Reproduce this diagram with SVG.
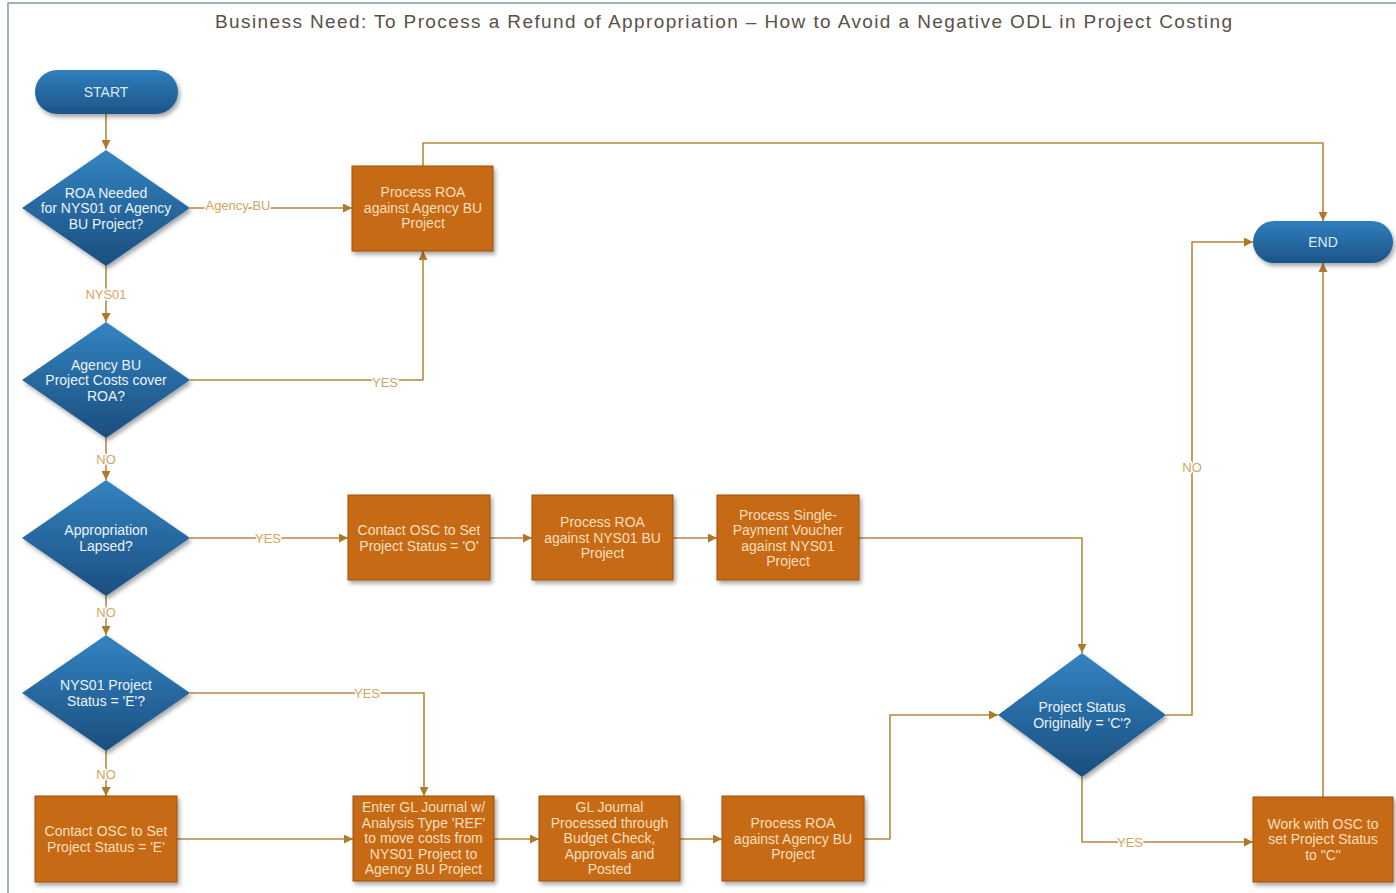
<svg xmlns="http://www.w3.org/2000/svg" width="1396" height="893" viewBox="0 0 1396 893">
<style>
.title{font-family:"Liberation Sans",Arial,sans-serif;font-size:19px;fill:#5a5048}
.bx{fill:#c76a12;stroke:#a05008;stroke-width:1}
.btx{font-family:"Liberation Sans",Arial,sans-serif;font-size:14px;fill:#f7dfba;text-anchor:middle}
.dtx{font-family:"Liberation Sans",Arial,sans-serif;font-size:14px;fill:#eaf2fa;text-anchor:middle}
.ptx{font-family:"Liberation Sans",Arial,sans-serif;font-size:14px;fill:#dbeaf6;text-anchor:middle}
.cn{fill:none;stroke:#b7883c;stroke-width:1.6;stroke-linejoin:round}
.lb{font-family:"Liberation Sans",Arial,sans-serif;font-size:13px;fill:#d3a560;text-anchor:middle;stroke:#fff;stroke-width:3;paint-order:stroke}
</style>
<defs>
<linearGradient id="gd" x1="0" y1="0" x2="0" y2="1">
<stop offset="0" stop-color="#3384c2"/>
<stop offset="1" stop-color="#1b4e7e"/>
</linearGradient>
<linearGradient id="gp" x1="0" y1="0" x2="0" y2="1">
<stop offset="0" stop-color="#2f7fbd"/>
<stop offset="1" stop-color="#1c5488"/>
</linearGradient>
<filter id="sh" x="-10%" y="-10%" width="130%" height="130%">
<feDropShadow dx="2" dy="3" stdDeviation="2" flood-color="#000" flood-opacity="0.35"/>
</filter>
<marker id="ar" viewBox="0 0 10 10" refX="10" refY="5" markerWidth="9" markerHeight="9" markerUnits="userSpaceOnUse" orient="auto">
<path d="M0,0 L10,5 L0,10 z" fill="#b0782a"/>
</marker>
</defs>
<rect width="1396" height="893" fill="#fff"/>
<path d="M8,893 V3 H1396" fill="none" stroke="#7f9aa6" stroke-width="1.5"/>
<text class="title" x="215" y="28" textLength="1017" lengthAdjust="spacing">Business Need: To Process a Refund of Appropriation – How to Avoid a Negative ODL in Project Costing</text>

<g id="connectors">
<path class="cn" d="M106,114 V149" marker-end="url(#ar)"/>
<path class="cn" d="M190,208 H352" marker-end="url(#ar)"/>
<path class="cn" d="M423,166 V143 H1323 V221" marker-end="url(#ar)"/>
<path class="cn" d="M106,266 V322" marker-end="url(#ar)"/>
<path class="cn" d="M190,380 H423 V251" marker-end="url(#ar)"/>
<path class="cn" d="M106,438 V480" marker-end="url(#ar)"/>
<path class="cn" d="M190,538 H348" marker-end="url(#ar)"/>
<path class="cn" d="M490,538 H532" marker-end="url(#ar)"/>
<path class="cn" d="M673,538 H717" marker-end="url(#ar)"/>
<path class="cn" d="M859,538 H1082 V653" marker-end="url(#ar)"/>
<path class="cn" d="M106,596 V635" marker-end="url(#ar)"/>
<path class="cn" d="M190,693 H424 V796" marker-end="url(#ar)"/>
<path class="cn" d="M106,751 V796" marker-end="url(#ar)"/>
<path class="cn" d="M177,839 H353" marker-end="url(#ar)"/>
<path class="cn" d="M494,839 H539" marker-end="url(#ar)"/>
<path class="cn" d="M680,839 H722" marker-end="url(#ar)"/>
<path class="cn" d="M864,839 H890 V715 H998" marker-end="url(#ar)"/>
<path class="cn" d="M1166,715 H1192 V242 H1253" marker-end="url(#ar)"/>
<path class="cn" d="M1082,777 V842 H1253" marker-end="url(#ar)"/>
<path class="cn" d="M1323,797 V263" marker-end="url(#ar)"/>
<text class="lb" x="238" y="210">Agency BU</text>
<text class="lb" x="106" y="299">NYS01</text>
<text class="lb" x="385" y="387">YES</text>
<text class="lb" x="106" y="464">NO</text>
<text class="lb" x="268" y="543">YES</text>
<text class="lb" x="106" y="617">NO</text>
<text class="lb" x="367" y="698">YES</text>
<text class="lb" x="106" y="779">NO</text>
<text class="lb" x="1192" y="472">NO</text>
<text class="lb" x="1130" y="847">YES</text>
</g>

<g id="start">
<rect x="35" y="70" width="143" height="44" rx="22" fill="url(#gp)" filter="url(#sh)"/>
<text class="ptx" x="106" y="97">START</text>
</g>
<g id="end">
<rect x="1253" y="221" width="140" height="42" rx="21" fill="url(#gp)" filter="url(#sh)"/>
<text class="ptx" x="1323" y="247">END</text>
</g>

<g id="d1">
<path d="M106,150 L190,208 L106,266 L22,208 Z" fill="url(#gd)" filter="url(#sh)"/>
<text class="dtx" x="106" y="197.5">ROA Needed</text>
<text class="dtx" x="106" y="213">for NYS01 or  Agency</text>
<text class="dtx" x="106" y="228.5">BU Project?</text>
</g>
<g id="d2">
<path d="M106,322 L190,380 L106,438 L22,380 Z" fill="url(#gd)" filter="url(#sh)"/>
<text class="dtx" x="106" y="369.5">Agency BU</text>
<text class="dtx" x="106" y="385">Project Costs cover</text>
<text class="dtx" x="106" y="400.5">ROA?</text>
</g>
<g id="d3">
<path d="M106,480 L190,538 L106,596 L22,538 Z" fill="url(#gd)" filter="url(#sh)"/>
<text class="dtx" x="106" y="535">Appropriation</text>
<text class="dtx" x="106" y="551">Lapsed?</text>
</g>
<g id="d4">
<path d="M106,635 L190,693 L106,751 L22,693 Z" fill="url(#gd)" filter="url(#sh)"/>
<text class="dtx" x="106" y="690">NYS01 Project</text>
<text class="dtx" x="106" y="706">Status = 'E'?</text>
</g>
<g id="d5">
<path d="M1082,653 L1166,715 L1082,777 L998,715 Z" fill="url(#gd)" filter="url(#sh)"/>
<text class="dtx" x="1082" y="712">Project Status</text>
<text class="dtx" x="1082" y="728">Originally = 'C'?</text>
</g>

<g id="b1">
<rect class="bx" x="352" y="166" width="141" height="85" filter="url(#sh)"/>
<text class="btx" x="423" y="197">Process ROA</text>
<text class="btx" x="423" y="212.5">against Agency BU</text>
<text class="btx" x="423" y="228">Project</text>
</g>
<g id="b2">
<rect class="bx" x="348" y="495" width="142" height="85" filter="url(#sh)"/>
<text class="btx" x="419" y="535">Contact OSC to Set</text>
<text class="btx" x="419" y="550.5">Project Status = 'O'</text>
</g>
<g id="b3">
<rect class="bx" x="532" y="495" width="141" height="85" filter="url(#sh)"/>
<text class="btx" x="602.5" y="527">Process ROA</text>
<text class="btx" x="602.5" y="542.5">against NYS01 BU</text>
<text class="btx" x="602.5" y="558">Project</text>
</g>
<g id="b4">
<rect class="bx" x="717" y="495" width="142" height="85" filter="url(#sh)"/>
<text class="btx" x="788" y="519.5">Process Single-</text>
<text class="btx" x="788" y="535">Payment Voucher</text>
<text class="btx" x="788" y="550.5">against NYS01</text>
<text class="btx" x="788" y="566">Project</text>
</g>
<g id="b5">
<rect class="bx" x="35" y="796" width="142" height="86" filter="url(#sh)"/>
<text class="btx" x="106" y="836">Contact OSC to Set</text>
<text class="btx" x="106" y="851.5">Project Status =  'E'</text>
</g>
<g id="b6">
<rect class="bx" x="353" y="796" width="141" height="85" filter="url(#sh)"/>
<text class="btx" x="423.5" y="812">Enter GL Journal w/</text>
<text class="btx" x="423.5" y="827.5">Analysis Type 'REF'</text>
<text class="btx" x="423.5" y="843">to move costs from</text>
<text class="btx" x="423.5" y="858.5">NYS01 Project to</text>
<text class="btx" x="423.5" y="874">Agency BU Project</text>
</g>
<g id="b7">
<rect class="bx" x="539" y="796" width="141" height="85" filter="url(#sh)"/>
<text class="btx" x="609.5" y="812">GL Journal</text>
<text class="btx" x="609.5" y="827.5">Processed through</text>
<text class="btx" x="609.5" y="843">Budget Check,</text>
<text class="btx" x="609.5" y="858.5">Approvals and</text>
<text class="btx" x="609.5" y="874">Posted</text>
</g>
<g id="b8">
<rect class="bx" x="722" y="796" width="142" height="85" filter="url(#sh)"/>
<text class="btx" x="793" y="828">Process ROA</text>
<text class="btx" x="793" y="843.5">against Agency BU</text>
<text class="btx" x="793" y="859">Project</text>
</g>
<g id="b9">
<rect class="bx" x="1253" y="797" width="140" height="85" filter="url(#sh)"/>
<text class="btx" x="1323" y="828.5">Work with OSC to</text>
<text class="btx" x="1323" y="844">set Project Status</text>
<text class="btx" x="1323" y="859.5">to "C"</text>
</g>
</svg>
